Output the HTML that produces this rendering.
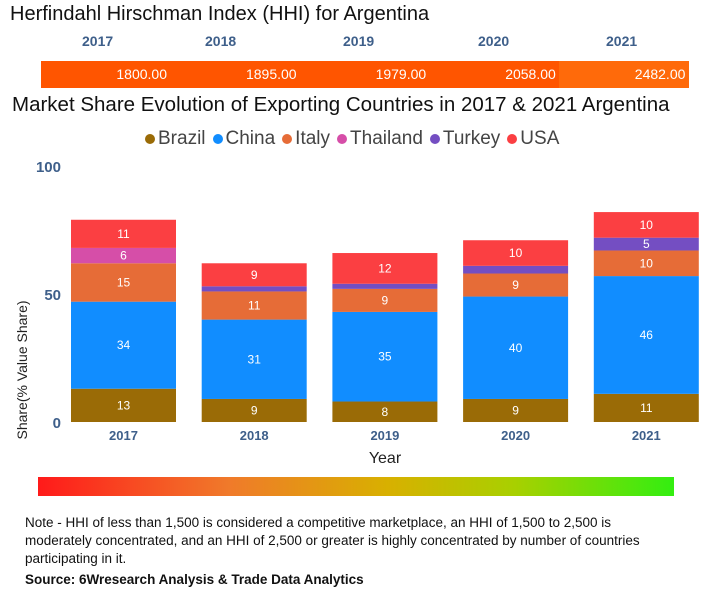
<!DOCTYPE html>
<html><head><meta charset="utf-8"><style>
body{margin:0;width:708px;height:600px;background:#fff;font-family:"Liberation Sans",sans-serif;position:relative;overflow:hidden}
.abs{position:absolute}
</style></head><body>
<div class="abs" style="left:10px;top:3px;font-size:20px;color:#111">Herfindahl Hirschman Index (HHI) for Argentina</div>
<div id="hhi"></div>
<div class="abs" style="left:12px;top:93px;font-size:20.5px;color:#111">Market Share Evolution of Exporting Countries in 2017 &amp; 2021 Argentina</div>
<div id="legend" class="abs" style="left:145px;top:128px;font-size:19px;color:#444;white-space:nowrap"></div>
<svg id="chart" class="abs" style="left:0;top:150px" width="708" height="320"></svg>
<div class="abs" style="left:38px;top:477px;width:636px;height:19px;background:linear-gradient(to right,#ff1a1a,#f07a2a 30%,#d8b000 55%,#a8d000 75%,#33ee11)"></div>
<div class="abs" style="left:25px;top:514px;width:628px;font-size:13.5px;line-height:18px;color:#111">Note - HHI of less than 1,500 is considered a competitive marketplace, an HHI of 1,500 to 2,500 is moderately concentrated, and an HHI of 2,500 or greater is highly concentrated by number of countries participating in it.</div>
<div class="abs" style="left:25px;top:572px;font-size:13.5px;font-weight:bold;color:#111">Source: 6Wresearch Analysis &amp; Trade Data Analytics</div>
<script>
const years=["2017","2018","2019","2020","2021"];
const hhiValues=["1800.00","1895.00","1979.00","2058.00","2482.00"];
const seriesNames=["Brazil","China","Italy","Thailand","Turkey","USA"];
const brazil=[13,9,8,9,11];
const china=[34,31,35,40,46];
const italy=[15,11,9,9,10];
const thailand=[6,0,0,0,0];
const turkey=[0,2,2,3,5];
const usa=[11,9,12,10,10];
const yTicks=[0,50,100];
const colors=["#9a6b06","#118dff","#e66c37","#d64ea8","#744ec2","#fb3f42"];
const series=[brazil,china,italy,thailand,turkey,usa];

const hhi=document.getElementById('hhi');
const yx=[[82,115],[205,230],[343,360],[478,495],[606,622]];
years.forEach((y,i)=>{
 const d=document.createElement('div');d.className='abs';
 
 
 d.style.cssText=`left:${yx[i][0]}px;top:33px;font-size:14px;font-weight:bold;color:#3e5f8a`;
 d.textContent=y;hhi.appendChild(d);
 const c=document.createElement('div');c.className='abs';
 
 
 const x0=41+i*129.6;
 c.style.cssText=`left:${x0}px;top:61px;width:130px;height:27px;background:${i==4?'#ff6a0a':'#ff5500'};color:#fff;font-size:14px;line-height:27px;text-align:right;box-sizing:border-box;padding-right:4px`;
 c.textContent=hhiValues[i];hhi.appendChild(c);
});
const lg=document.getElementById('legend');
seriesNames.forEach((n,i)=>{
 const s=document.createElement('span');
 
 
 s.style.marginRight='7px';
 s.innerHTML=`<span style="display:inline-block;width:10px;height:10px;border-radius:50%;background:${colors[i]};margin-right:3px"></span>${n}`;
 lg.appendChild(s);
});
const svg=document.getElementById('chart');const NS='http://www.w3.org/2000/svg';
const y0=272,ppu=2.56;
const yS=v=>y0-v*ppu;
const xS=i=>71+i*130.7;
function el(t,a,txt){const e=document.createElementNS(NS,t);for(const k in a)e.setAttribute(k,a[k]);if(txt!=null)e.textContent=txt;svg.appendChild(e);return e;}
yTicks.forEach(t=>{const e=el('text',{x:61,y:yS(t)+6,'text-anchor':'end','font-size':15,'font-weight':'bold',fill:'#3e5f8a'},t);
 
 });
years.forEach((yr,i)=>{
 let acc=0;
 series.forEach((s,j)=>{
  const v=s[i];if(!v)return;
  const r=el('rect',{x:xS(i),y:yS(acc+v),width:105,height:v*ppu,fill:colors[j]});
  
  
  if(v>=4){const t=el('text',{x:xS(i)+52.5,y:yS(acc+v/2)+4,'text-anchor':'middle','font-size':12,fill:'#fff'},v);
   
   }
  acc+=v;
 });
 const t=el('text',{x:xS(i)+52.5,y:290,'text-anchor':'middle','font-size':13,'font-weight':'bold',fill:'#3e5f8a'},yr);
 
 
});
const xt=el('text',{x:385,y:313,'text-anchor':'middle','font-size':16,fill:'#222'},'Year');


const yt=el('text',{x:0,y:0,transform:'translate(27,220) rotate(-90)','text-anchor':'middle','font-size':14,fill:'#222'},'Share(% Value Share)');


</script>
</body></html>
